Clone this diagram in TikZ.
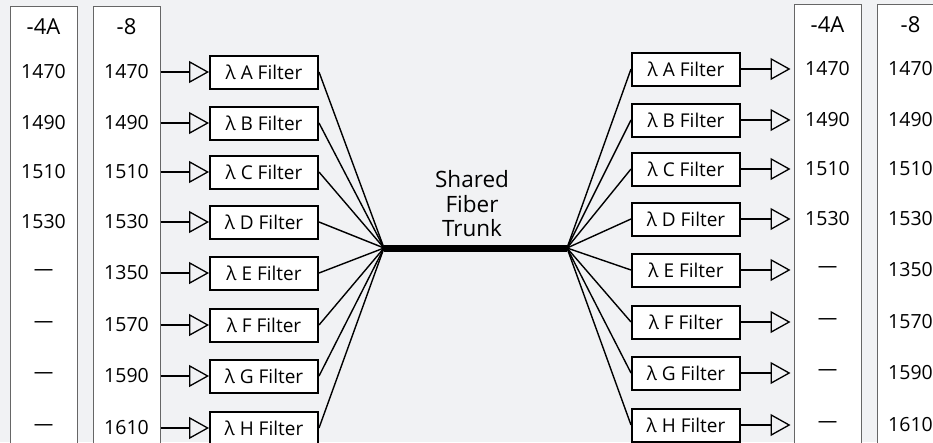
\documentclass[tikz,border=0pt]{standalone}
\usepackage{fontspec}
\setmainfont{Open Sans}
\usetikzlibrary{arrows.meta,positioning}
\definecolor{panelbg}{HTML}{F1F2F4}
\definecolor{colframe}{HTML}{666666}
\tikzset{
  column/.style={draw=colframe, line width=1pt, fill=white, minimum width=67pt, minimum height=480pt, anchor=north, inner sep=0pt},
  head/.style={font=\fontsize{22}{22}\selectfont},
  wave/.style={font=\fontsize{19.5}{19.5}\selectfont},
  filter/.style={draw=black, line width=2pt, fill=white, minimum width=108pt, minimum height=33pt, inner sep=0pt, font=\fontsize{19}{19}\selectfont},
  feed/.style={-{Triangle[open, length=20pt, width=22pt, line width=1.3pt]}, line width=1.3pt, draw=black},
  fan/.style={line width=1.4pt, draw=black},
  trunk/.style={line width=7pt, draw=black}
}

\begin{document}
\begin{tikzpicture}[x=1pt, y=-1pt]
  \fill[panelbg] (0,0) rectangle (933,442);
  \useasboundingbox (0,0) rectangle (933,442);
  \clip (0,0) rectangle (933,442);

  % columns
  \node[column] (colLa) at (43.5,6) {};
  \node[column] (colLb) at (126.5,6) {};
  \node[column] (colRa) at (827.5,4) {};
  \node[column] (colRb) at (910.5,4) {};
  \node[head] (hLa) at (43.5,27) {-4A};
  \node[head] (hLb) at (126.5,27) {-8};
  \node[head] (hRa) at (827.5,25) {-4A};
  \node[head] (hRb) at (910.5,25) {-8};

  % trunk
  \coordinate (tl) at (384,248);
  \coordinate (tr) at (567,248);
  \draw[trunk] (tl) -- (tr);
  \node[align=center, font=\fontsize{22.5}{24.5}\selectfont] (title) at (472,204) {Shared\\Fiber\\Trunk};

  % rows
  \foreach \a/\b/\f/\y [count=\i] in {1470/1470/A/72, 1490/1490/B/123, 1510/1510/C/172, 1530/1530/D/222,
      —/1350/E/273, —/1570/F/325, —/1590/G/376, —/1610/H/428}{
    \node[wave] (la\i) at (43.5,\y) {\a};
    \node[wave] (lb\i) at (126.5,\y) {\b};
    \node[wave] (ra\i) at (827.5,\y-3) {\a};
    \node[wave] (rb\i) at (910.5,\y-3) {\b};
    \node[filter] (lf\i) at (264,\y) {λ \f\ Filter};
    \node[filter] (rf\i) at (686,\y-3) {λ \f\ Filter};
    \draw[feed] (lf\i.west -| colLb.east) -- (lf\i.west);
    \draw[feed, shorten >=3pt] (rf\i.east) -- (rf\i.east -| colRa.west);
    \draw[fan] (lf\i.east) -- (tl);
    \draw[fan] (rf\i.west) -- (tr);
  }
\end{tikzpicture}
\end{document}
